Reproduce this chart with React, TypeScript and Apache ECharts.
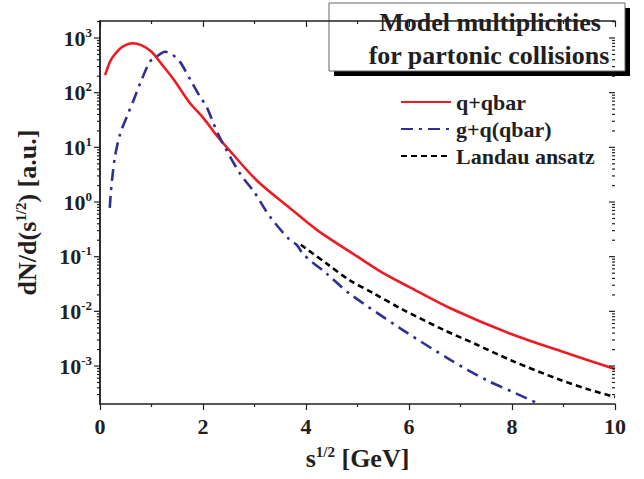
import React, { useEffect, useRef } from "react";
import * as echarts from "echarts";

// ---- data ----
const redX = [0.1, 0.2, 0.3, 0.45, 0.63, 0.8, 1.0, 1.2, 1.42, 1.75, 2.0, 2.3, 2.39, 3.04, 3.69, 4.21, 5.0, 5.5, 6.0, 6.8, 8.0, 9.0, 10];
const redY = [210, 380, 520, 700, 800, 740, 560, 330, 180, 64, 35, 15, 12, 2.5, 0.77, 0.31, 0.1, 0.05, 0.028, 0.0114, 0.0038, 0.0018, 0.00088];

const blueX = [0.19, 0.21, 0.233, 0.29, 0.39, 0.524, 0.66, 0.78, 0.97, 1.1, 1.26, 1.4, 1.55, 1.75, 1.94, 2.07, 2.3, 2.72, 3.0, 3.3, 3.69, 3.82, 3.95, 4.4, 4.85, 5.83, 6.8, 7.51, 8.0, 8.54];
const blueY = [0.78, 1.5, 2.5, 6.7, 17.5, 37, 76, 148, 370, 455, 560, 500, 370, 175, 85, 55, 17, 3.3, 1.5, 0.54, 0.2, 0.165, 0.11, 0.049, 0.021, 0.0049, 0.0013, 0.00055, 0.00034, 0.0002];

const blackX = [3.9, 4.4, 4.85, 5.3, 5.83, 6.67, 7.3, 8.0, 8.93, 9.5, 10];
const blackY = [0.165, 0.075, 0.037, 0.0217, 0.0114, 0.0046, 0.0025, 0.00125, 0.00056, 0.00037, 0.00027];

const seriesNames = ["q+qbar", "g+q(qbar)", "Landau ansatz"];
const titleLines = ["Model multiplicities", "for partonic collisions"];
const xTitle = "{a|s}{s|1/2}{a| [GeV]}";
const yTitle = "{a|dN/d(s}{s|1/2}{a|) [a.u.]}";

const X_MIN = 0;
const X_MAX = 10;
const Y_MIN = 2.02e-4;
const Y_MAX = 2047;
const decades = [-4, -3, -2, -1, 0, 1, 2, 3];
const mantissas = [1, 2, 3, 4, 5, 6, 7, 8, 9];

const FONT = "'Liberation Serif', 'Times New Roman', serif";
const INK = "#231f20";

function zip(xs: number[], ys: number[]) {
  return xs.map((x, i) => [x, ys[i]]);
}

function buildTicks() {
  const out: number[][] = [];
  for (const d of decades) {
    for (const m of mantissas) {
      const v = m * Math.pow(10, d);
      if (v < Y_MIN || v > Y_MAX) continue;
      const len = m === 1 ? 6 : 3;
      out.push([X_MIN, v, len]);
      out.push([X_MAX, v, len]);
    }
  }
  return out;
}

export default function App() {
  const ref = useRef<HTMLDivElement>(null);
  useEffect(() => {
    if (!ref.current) return;
    const chart = echarts.init(ref.current, undefined, { renderer: "svg" });
    const axisLine = { show: true, lineStyle: { color: INK, width: 1.5 } };
    const supRich = {
      b: { fontFamily: FONT, fontWeight: "bold", fontSize: 22, color: INK },
      s: { fontFamily: FONT, fontWeight: "bold", fontSize: 13, color: INK, padding: [0, 0, 12, 0] },
    };
    const nameRich = {
      a: { fontFamily: FONT, fontWeight: "bold", fontSize: 26, color: INK },
      s: { fontFamily: FONT, fontWeight: "bold", fontSize: 15, color: INK, padding: [0, 0, 14, 0] },
    };
    const lineCommon = { smooth: 0.3, showSymbol: false, symbol: "none" };
    const option: any = {
      animation: false,
      backgroundColor: "#ffffff",
      grid: { left: 100, right: 29, top: 21, bottom: 75, containLabel: false },
      legend: {
        data: seriesNames,
        orient: "vertical",
        left: 395,
        top: 86,
        itemWidth: 50,
        itemHeight: 16,
        itemGap: 5,
        itemStyle: { opacity: 0 },
        textStyle: { fontFamily: FONT, fontWeight: "bold", fontSize: 22, color: INK },
      },
      xAxis: [
        {
          type: "value",
          min: X_MIN,
          max: X_MAX,
          interval: 2,
          position: "bottom",
          name: xTitle,
          nameLocation: "middle",
          nameGap: 40,
          nameTextStyle: { rich: nameRich },
          axisLine,
          axisTick: { show: true, inside: false, length: 6, lineStyle: { color: INK, width: 1.2 } },
          minorTick: { show: true, splitNumber: 2, length: 3, lineStyle: { color: INK, width: 1.2 } },
          splitLine: { show: false },
          axisLabel: { fontFamily: FONT, fontWeight: "bold", fontSize: 22, color: INK, margin: 11 },
        },
        {
          type: "value",
          min: X_MIN,
          max: X_MAX,
          interval: 2,
          position: "top",
          axisLine,
          axisTick: { show: true, inside: true, length: 6, lineStyle: { color: INK, width: 1.2 } },
          minorTick: { show: true, splitNumber: 2, length: 3, lineStyle: { color: INK, width: 1.2 } },
          splitLine: { show: false },
          axisLabel: { show: false },
        },
      ],
      yAxis: [
        {
          type: "log",
          min: Y_MIN,
          max: Y_MAX,
          position: "left",
          name: yTitle,
          nameLocation: "middle",
          nameRotate: 90,
          nameGap: 58,
          nameTextStyle: { rich: nameRich },
          axisLine,
          axisTick: { show: false },
          splitLine: { show: false },
          axisLabel: {
            margin: 8,
            showMinLabel: false,
            showMaxLabel: false,
            formatter: (v: number) => {
              const e = Math.log10(v);
              const r = Math.round(e);
              if (Math.abs(e - r) > 1e-6) return "";
              return `{b|10}{s|${r}}`;
            },
            rich: supRich,
          },
        },
        {
          type: "log",
          min: Y_MIN,
          max: Y_MAX,
          position: "right",
          axisLine,
          axisTick: { show: false },
          splitLine: { show: false },
          axisLabel: { show: false },
        },
      ],
      series: [
        {
          name: seriesNames[0],
          type: "line",
          data: zip(redX, redY),
          ...lineCommon,
          lineStyle: { color: "#ed1c24", width: 2.6 },
          itemStyle: { color: "#ed1c24" },
        },
        {
          name: seriesNames[1],
          type: "line",
          data: zip(blueX, blueY),
          ...lineCommon,
          lineStyle: { color: "#2e3192", width: 2.6, type: [12, 6, 3, 6] },
          itemStyle: { color: "#2e3192" },
        },
        {
          name: seriesNames[2],
          type: "line",
          data: zip(blackX, blackY),
          ...lineCommon,
          lineStyle: { color: "#000000", width: 2.6, type: [6, 4] },
          itemStyle: { color: "#000000" },
        },
        {
          name: "yticks",
          type: "custom",
          silent: true,
          clip: false,
          z: 5,
          data: buildTicks(),
          encode: { x: 0, y: 1 },
          renderItem: (params: any, api: any) => {
            const p = api.coord([api.value(0), api.value(1)]);
            const len = api.value(2);
            return {
              type: "line",
              shape: { x1: p[0] - len, y1: p[1], x2: p[0], y2: p[1] },
              style: { stroke: INK, lineWidth: 1.2 },
            };
          },
        },
      ],
      graphic: [
        {
          type: "group",
          z: 100,
          children: [
            { type: "rect", shape: { x: 334, y: 8, width: 296, height: 68 }, style: { fill: "#000000" } },
            { type: "rect", shape: { x: 329, y: 3, width: 296, height: 68 }, style: { fill: "#ffffff", stroke: "#666666", lineWidth: 1 } },
            {
              type: "text",
              x: 490,
              y: 22,
              style: { text: titleLines[0], fontFamily: FONT, fontWeight: "bold", fontSize: 26, fill: INK, align: "center", verticalAlign: "middle" },
            },
            {
              type: "text",
              x: 489,
              y: 55,
              style: { text: titleLines[1], fontFamily: FONT, fontWeight: "bold", fontSize: 26, fill: INK, align: "center", verticalAlign: "middle" },
            },
          ],
        },
      ],
    };
    chart.setOption(option);
    return () => chart.dispose();
  }, []);
  return <div ref={ref} style={{ width: 644, height: 479, position: "absolute", left: 0, top: 0 }} />;
}
